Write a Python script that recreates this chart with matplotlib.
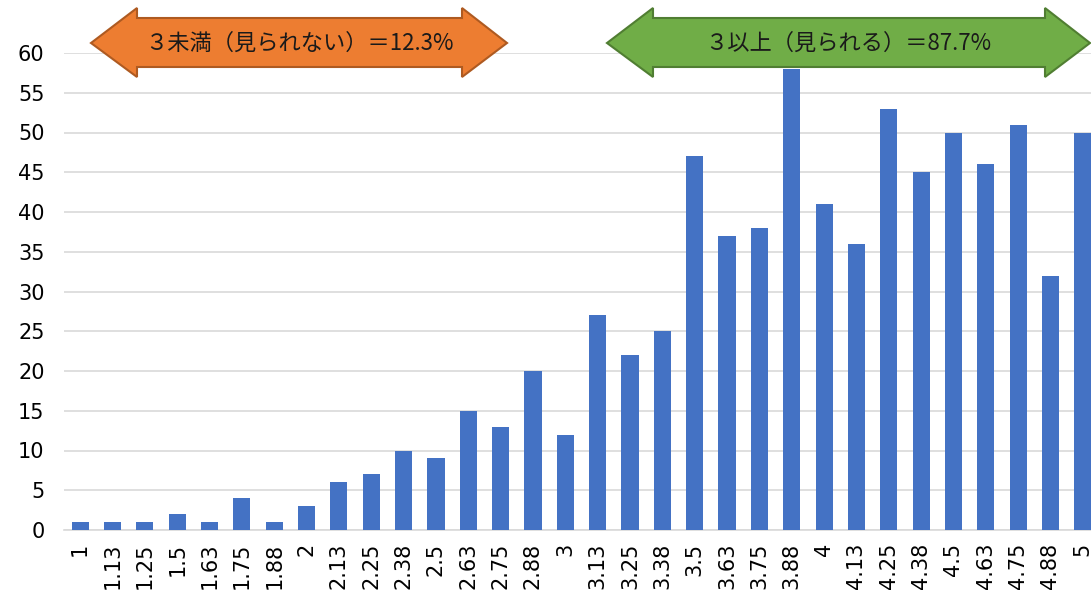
import numpy as np
import matplotlib.pyplot as plt
from matplotlib.patches import Polygon

plt.rcParams['font.family'] = ['Noto Sans CJK JP', 'DejaVu Sans']

categories = ['1', '1.13', '1.25', '1.5', '1.63', '1.75', '1.88', '2', '2.13', '2.25', '2.38', '2.5',
              '2.63', '2.75', '2.88', '3', '3.13', '3.25', '3.38', '3.5', '3.63', '3.75', '3.88', '4',
              '4.13', '4.25', '4.38', '4.5', '4.63', '4.75', '4.88', '5']
counts = [1, 1, 1, 2, 1, 4, 1, 3, 6, 7, 10, 9, 15, 13, 20, 12, 27, 22, 25, 47, 37, 38, 58, 41,
          36, 53, 45, 50, 46, 51, 32, 50]
yticks = list(range(0, 61, 5))
label_low = '３未満（見られない）＝12.3%'
label_high = '３以上（見られる）＝87.7%'

W, H = 1091, 598
fig = plt.figure(figsize=(W / 100, H / 100), dpi=100)
ax = fig.add_axes([64 / W, 68 / H, (1099 - 64) / W, (530 - 53) / H])

x = np.arange(len(categories))
ax.bar(x, counts, width=0.53, color='#4472C4', zorder=3)
ax.set_xlim(-0.5, len(categories) - 0.5)
ax.set_ylim(0, 60)
ax.set_yticks(yticks)
ax.set_xticks(x)
ax.set_xticklabels(categories, rotation=90, fontsize=15, family='DejaVu Sans')
for lab in ax.get_yticklabels():
    lab.set_family('DejaVu Sans')
ax.tick_params(axis='y', labelsize=15, length=0, pad=14)
ax.tick_params(axis='x', length=0, pad=9)
for lab in ax.get_xticklabels():
    lab.set_verticalalignment('top')
ax.yaxis.grid(True, color='#d9d9d9', linewidth=1.2, zorder=0)
for s in ['top', 'right', 'left']:
    ax.spines[s].set_visible(False)
ax.spines['bottom'].set_color('#d9d9d9')
ax.spines['bottom'].set_linewidth(1.2)


def double_arrow(x0, x1, b0, b1, yc, face, edge, text):
    # shape in figure pixels (y measured from top)
    hy0, hy1 = 8, 77
    by0, by1 = 18, 67
    pts = [(x0, yc), (b0, hy0), (b0, by0), (b1, by0), (b1, hy0), (x1, yc),
           (b1, hy1), (b1, by1), (b0, by1), (b0, hy1)]
    pts = [(px / W, 1 - py / H) for px, py in pts]
    fig.patches.append(Polygon(pts, closed=True, facecolor=face, edgecolor=edge,
                               linewidth=1.5, transform=fig.transFigure, zorder=5))
    fig.text((x0 + x1) / 2 / W, 1 - yc / H, text, ha='center', va='center',
             fontsize=16, color='#1a1a1a', zorder=6)


double_arrow(91, 507, 137, 462, 43, '#ED7D31', '#AE5A21', label_low)
double_arrow(607, 1090, 653, 1045, 43, '#70AD47', '#507E32', label_high)

fig.savefig('out.png', dpi=100)
